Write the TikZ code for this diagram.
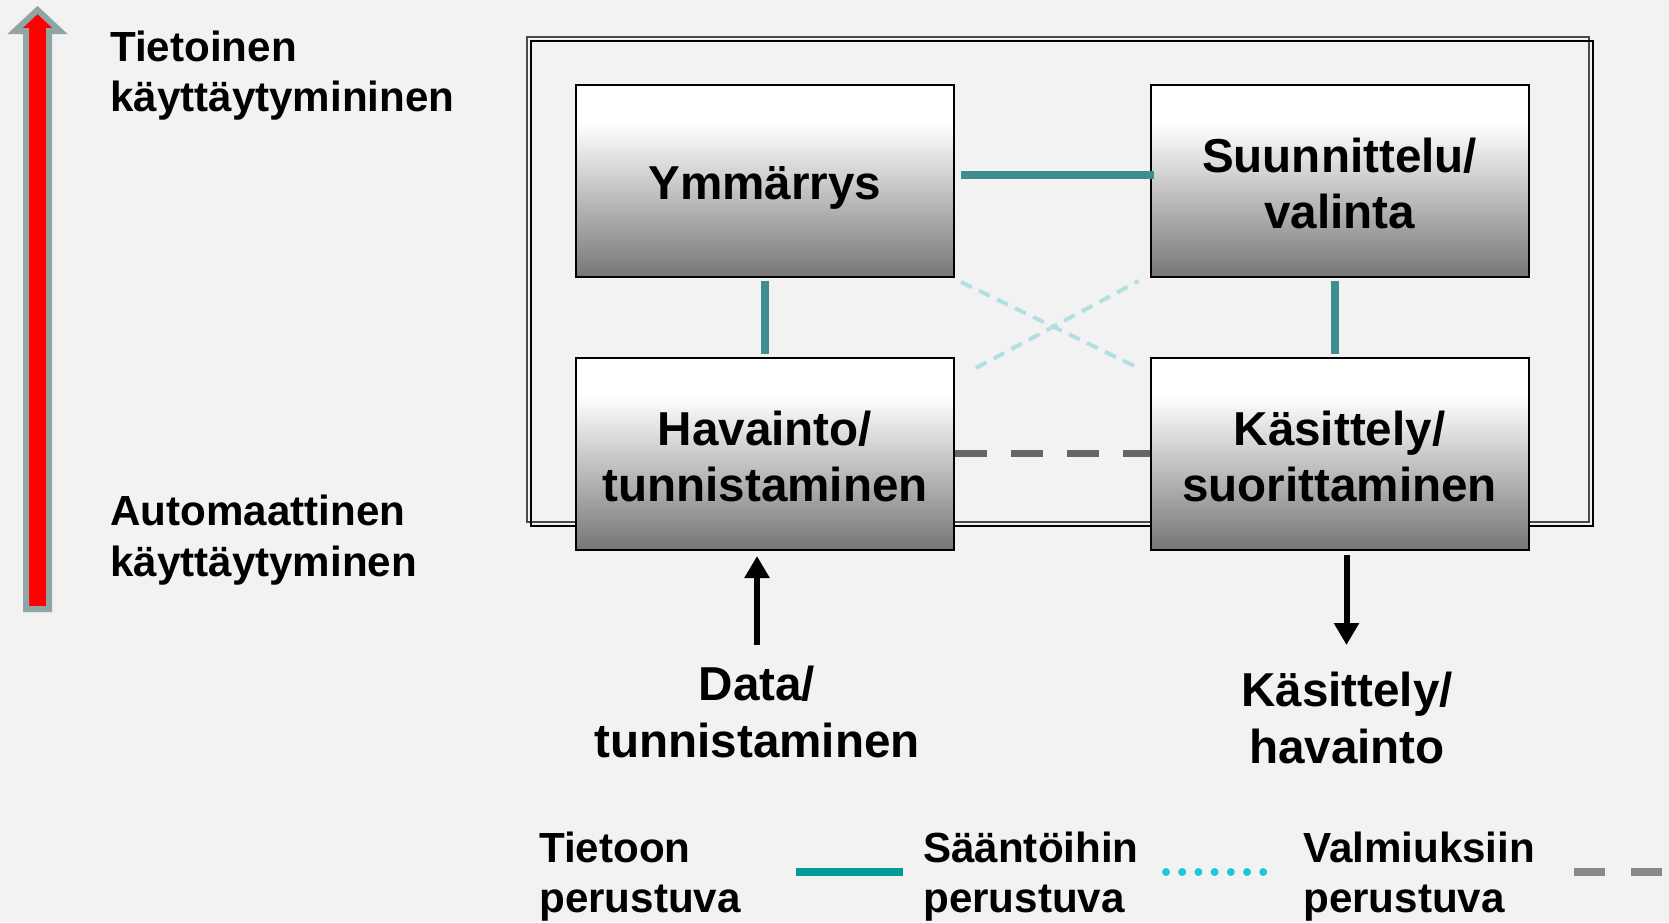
\documentclass[tikz,border=0pt]{standalone}
\usepackage{fontspec}
\setmainfont{Liberation Sans}
\usetikzlibrary{arrows.meta,calc}
\definecolor{bg}{HTML}{F2F2F2}
\definecolor{tealc}{HTML}{3E8D91}
\definecolor{crossc}{HTML}{B3DFE3}
\definecolor{dashg}{HTML}{666666}
\definecolor{legteal}{HTML}{009A97}
\definecolor{legcyan}{HTML}{1FC8D8}
\definecolor{leggray}{HTML}{888888}
\definecolor{arrowedge}{HTML}{8FA5A6}
\definecolor{boxbot}{HTML}{767676}
\definecolor{framegray}{HTML}{4A4A4A}
\pgfdeclareverticalshading{boxshade}{100bp}{color(0bp)=(boxbot); color(25bp)=(boxbot); color(65bp)=(white); color(100bp)=(white)}
\newcommand{\twoc}[3]{\vtop{\baselineskip=#1\lineskiplimit=-100pt\halign{\hfil##\hfil\cr#2\cr#3\cr}}}
\newcommand{\twol}[3]{\vtop{\baselineskip=#1\lineskiplimit=-100pt\halign{##\hfil\cr#2\cr#3\cr}}}
\tikzset{
  procbox/.style={shading=boxshade, draw=black, line width=1.5pt, minimum width=283.5pt, minimum height=144pt, inner sep=0pt},
  bigtext/.style={inner sep=0pt, font=\fontsize{35.7pt}{42pt}\selectfont\bfseries},
  smalltext/.style={inner sep=0pt, font=\fontsize{31.6pt}{37pt}\selectfont\bfseries},
  knowline/.style={draw=tealc, line width=5.6pt},
  ruleline/.style={draw=crossc, line width=3pt, dash pattern=on 9pt off 6pt},
  skillline/.style={draw=dashg, line width=5.25pt, dash pattern=on 24pt off 18pt},
  flowarrow/.style={draw=black, line width=4.5pt, -{Triangle[length=16.5pt,width=18pt]}},
  frameline/.style={line width=1.9pt}
}
\begin{document}
\begin{tikzpicture}[x=0.75pt,y=-0.75pt]
\fill[bg] (0,0) rectangle (1669,922);
\useasboundingbox (0,0) rectangle (1669,922);
% vertical red arrow
\filldraw[fill=red, draw=arrowedge, line width=4.5pt, miter limit=10]
  (37.5,10) -- (60,31) -- (49,31) -- (49,609) -- (26,609) -- (26,31) -- (15,31) -- cycle;
% outer frame
\draw[frameline, draw=framegray] (527,37) rectangle (1589,522);
\draw[frameline, draw=black] (531,41) rectangle (1593,526);
% boxes
\node[procbox] (Y) at (765,181) {};
\node[procbox] (S) at (1339.5,181) {};
\node[procbox] (H) at (765,453.5) {};
\node[procbox] (K) at (1339.5,453.5) {};
% connectors
\draw[knowline] ($(Y.east)+(6,-6)$) -- ($(S.west)+(4,-6)$);
\draw[knowline] ($(Y.south)+(0,3)$) -- ($(H.north)+(0,-3)$);
\draw[knowline] ($(S.south)+(-4.5,3)$) -- ($(K.north)+(-4.5,-3)$);
\draw[ruleline] ($(Y.south east)+(6,4)$) -- ($(K.north west)+(-11,11.5)$);
\draw[ruleline] ($(H.north east)+(21,11.5)$) -- ($(S.south west)+(-11,3)$);
\draw[skillline] (H.east) -- (K.west);
% texts in boxes
\node[bigtext, anchor=base] (tY) at (765,199) {Ymmärrys};
\node[bigtext, anchor=base] (tS) at (1339.5,172) {\twoc{42pt}{Suunnittelu/}{valinta}};
\node[bigtext, anchor=base] (tH) at (765,445) {\twoc{42pt}{Havainto/}{tunnistaminen}};
\node[bigtext, anchor=base] (tK) at (1339.5,445) {\twoc{42pt}{Käsittely/}{suorittaminen}};
% input / output
\node[bigtext, anchor=base] (tD) at (757,700) {\twoc{43pt}{Data/}{tunnistaminen}};
\node[bigtext, anchor=base] (tO) at (1347,706) {\twoc{43pt}{Käsittely/}{havainto}};
\draw[flowarrow] ($(H.south)+(-8,94.5)$) -- ($(H.south)+(-8,5.5)$);
\draw[flowarrow] ($(K.south)+(7,4.5)$) -- ($(K.south)+(7,94.5)$);
% side labels
\node[smalltext, anchor=base west] (tTop) at (110,61.5) {\twol{37.2pt}{Tietoinen}{käyttäytymininen}};
\node[smalltext, anchor=base west] (tBot) at (110,525.5) {\twol{38pt}{Automaattinen}{käyttäytyminen}};
% legend
\node[smalltext, anchor=base west] (l1) at (539,862) {\twol{37.5pt}{Tietoon}{perustuva}};
\node[smalltext, anchor=base west] (l2) at (923,862) {\twol{37.5pt}{Sääntöihin}{perustuva}};
\node[smalltext, anchor=base west] (l3) at (1303,862) {\twol{37.5pt}{Valmiuksiin}{perustuva}};
\coordinate (a1) at (796,872); \coordinate (b1) at (903,872);
\coordinate (a2) at (1166,872); \coordinate (b2) at (1264,872);
\coordinate (a3) at (1574,872); \coordinate (b3) at (1669,872);
\draw[draw=legteal, line width=6pt] (a1) -- (b1);
\draw[draw=legcyan, line width=6pt, line cap=round, dash pattern=on 0pt off 12.15pt] (a2) -- (b2);
\draw[draw=leggray, line width=6pt, dash pattern=on 23.25pt off 19.5pt] (a3) -- (b3);
\end{tikzpicture}
\end{document}
